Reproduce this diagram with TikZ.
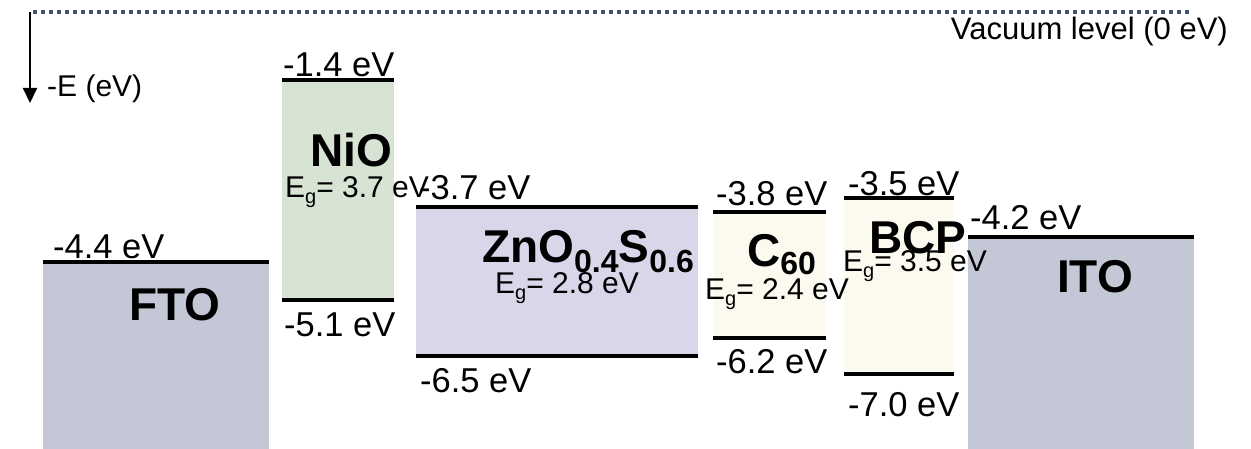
\documentclass[tikz,border=0pt]{standalone}
\usepackage{fontspec}
\setmainfont{Liberation Sans}
\usetikzlibrary{arrows.meta}
\definecolor{vac}{HTML}{44546A}
\definecolor{tco}{HTML}{C4C8D6}
\definecolor{nio}{HTML}{D7E3D3}
\definecolor{zno}{HTML}{D9D6EA}
\definecolor{etl}{HTML}{FCFAEE}
\tikzset{
  lvl/.style={line width=3.5pt, black},
  elab/.style={font=\fontsize{34.5}{40}\selectfont, inner sep=0pt, anchor=base west},
  mat/.style={font=\fontsize{46}{50}\selectfont\bfseries, inner sep=0pt, anchor=base west},
  eg/.style={font=\fontsize{30}{32}\selectfont, inner sep=0pt, anchor=base west},
}
\newcommand{\gsub}{\raisebox{-6pt}{\fontsize{20}{22}\selectfont g}}
\newcommand{\bsub}[1]{\raisebox{-10pt}{\fontsize{32}{34}\selectfont\bfseries #1}}
\begin{document}
\begin{tikzpicture}[x=1pt,y=-1pt]
\useasboundingbox (0,0) rectangle (1251,449);
% boxes
\fill[tco] (43,262) rectangle (269,449);
\fill[nio] (282,80) rectangle (394,300);
\fill[zno] (416,207) rectangle (698,356);
\fill[etl] (713,212) rectangle (826,338);
\fill[etl] (844,198) rectangle (954,374);
\fill[tco] (968,237) rectangle (1194,449);
% levels
\draw[lvl] (43,262) -- (269,262);
\draw[lvl] (282,80) -- (394,80);
\draw[lvl] (282,300) -- (394,300);
\draw[lvl] (416,207) -- (698,207);
\draw[lvl] (416,356) -- (698,356);
\draw[lvl] (713,212) -- (826,212);
\draw[lvl] (713,338) -- (826,338);
\draw[lvl] (844,198) -- (954,198);
\draw[lvl] (844,374) -- (954,374);
\draw[lvl] (968,237) -- (1194,237);
% vacuum level and axis
\coordinate (vacL) at (30,12);
\coordinate (vacS) at (33,12);
\coordinate (vacR) at (1190,12);
\coordinate (axEnd) at (30,103);
\draw[vac, line width=4pt, dash pattern=on 4pt off 4pt] (vacS) -- (vacR);
\draw[line width=2pt, -{Triangle[width=14pt,length=15pt]}] (vacL) -- (axEnd);
\node[font=\fontsize{30}{34}\selectfont, inner sep=0pt, anchor=base west] (axlab) at (47,97) {-E (eV)};
\node[font=\fontsize{31}{34}\selectfont, inner sep=0pt, anchor=base east] (vaclab) at (1228,40) {Vacuum level (0 eV)};
% energy labels
\node[elab] (l1) at (283,77) {-1.4 eV};
\node[elab] (l2) at (53,259) {-4.4 eV};
\node[elab] (l3) at (284,336) {-5.1 eV};
\node[elab] (l4) at (419,200) {-3.7 eV};
\node[elab] (l5) at (420,392) {-6.5 eV};
\node[elab] (l6) at (716,206) {-3.8 eV};
\node[elab] (l7) at (716,373) {-6.2 eV};
\node[elab] (l8) at (848,196) {-3.5 eV};
\node[elab] (l9) at (848,416) {-7.0 eV};
\node[elab] (l10) at (970,230) {-4.2 eV};
% material names
\node[mat] (fto) at (129,320) {FTO};
\node[mat] (nioL) at (310,167) {NiO};
\node[mat] (znoL) at (482,262) {ZnO\bsub{0.4}S\bsub{0.6}};
\node[mat] (c60) at (747,267) {C\raisebox{-8pt}{\fontsize{32}{34}\selectfont\bfseries 60}};
\node[mat] (bcp) at (869,254) {BCP};
\node[mat] (ito) at (1057,293) {ITO};
% band gaps
\node[eg] (g1) at (285,198) {E\gsub= 3.7 eV};
\node[eg] (g2) at (495,294) {E\gsub= 2.8 eV};
\node[eg] (g3) at (705,299) {E\gsub= 2.4 eV};
\node[eg] (g4) at (843,272) {E\gsub= 3.5 eV};
\end{tikzpicture}
\end{document}
